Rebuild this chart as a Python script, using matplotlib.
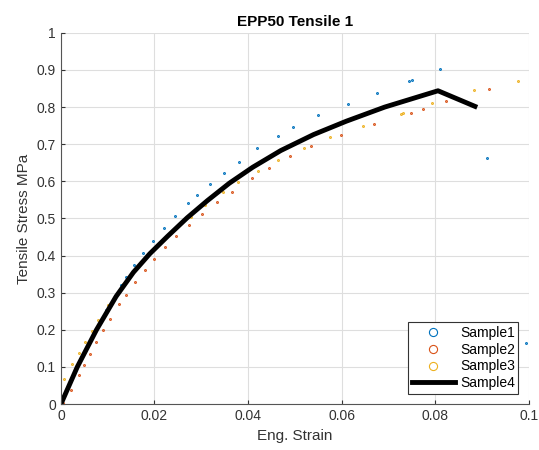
import numpy as np
import matplotlib
matplotlib.use("Agg")
import matplotlib.pyplot as plt

plt.rcParams['font.family'] = ['Liberation Sans', 'DejaVu Sans']

# Sample1 (blue)
s1_x = [0.0097, 0.0115, 0.0128, 0.014, 0.0157, 0.0175, 0.0197, 0.022, 0.0244, 0.0271,
        0.029, 0.0318, 0.0348, 0.038, 0.042, 0.0464, 0.0497, 0.055, 0.0614, 0.0675,
        0.0743, 0.075, 0.081, 0.091, 0.0995]
s1_y = [0.253, 0.291, 0.32, 0.342, 0.376, 0.408, 0.44, 0.474, 0.508, 0.541,
        0.563, 0.593, 0.623, 0.652, 0.69, 0.722, 0.747, 0.779, 0.809, 0.838,
        0.871, 0.873, 0.902, 0.663, 0.164]

# Sample2 (red)
s2_x = [0.0005, 0.0021, 0.0038, 0.0049, 0.0063, 0.0076, 0.009, 0.0105, 0.0125, 0.0139,
        0.0159, 0.0179, 0.0199, 0.0223, 0.0247, 0.0274, 0.0302, 0.0333, 0.0365, 0.0409,
        0.0444, 0.0489, 0.0534, 0.0598, 0.0669, 0.0748, 0.0773, 0.0823, 0.0915]
s2_y = [0.003, 0.038, 0.079, 0.106, 0.135, 0.168, 0.2, 0.23, 0.27, 0.294,
        0.329, 0.361, 0.392, 0.422, 0.453, 0.482, 0.513, 0.544, 0.572, 0.609,
        0.635, 0.667, 0.694, 0.725, 0.754, 0.785, 0.795, 0.817, 0.848]

# Sample3 (yellow)
s3_x = [0.0007, 0.0024, 0.0038, 0.0052, 0.0066, 0.008, 0.0101, 0.0115, 0.0133, 0.0278,
        0.0307, 0.0347, 0.0379, 0.0422, 0.0464, 0.0519, 0.0575, 0.0646, 0.0726, 0.0731,
        0.0793, 0.0882, 0.0978]
s3_y = [0.067, 0.108, 0.137, 0.167, 0.198, 0.226, 0.266, 0.291, 0.323, 0.505,
        0.537, 0.571, 0.598, 0.629, 0.658, 0.691, 0.719, 0.75, 0.782, 0.783,
        0.812, 0.846, 0.871]

# Sample4 (black line)
s4_x = [0, 0.0035, 0.0076, 0.0118, 0.0155, 0.019, 0.0228, 0.027, 0.0313, 0.036,
        0.041, 0.047, 0.054, 0.061, 0.0692, 0.0806, 0.0885]
s4_y = [0, 0.1, 0.2, 0.29, 0.355, 0.405, 0.452, 0.502, 0.548, 0.595,
        0.638, 0.683, 0.726, 0.762, 0.8, 0.844, 0.802]

fig = plt.figure(figsize=(5.39, 4.5), dpi=100)
ax = fig.add_axes([0.113, 0.102, 0.868, 0.825])

ax.plot(s1_x, s1_y, 'o', color='#0072BD', mfc='none', ms=1.3, mew=0.8, label='Sample1')
ax.plot(s2_x, s2_y, 'o', color='#D95319', mfc='none', ms=1.3, mew=0.8, label='Sample2')
ax.plot(s3_x, s3_y, 'o', color='#EDB120', mfc='none', ms=1.3, mew=0.8, label='Sample3')
ax.plot(s4_x, s4_y, color='k', lw=3.5, label='Sample4', solid_joinstyle='round')

ax.set_xlim(0, 0.1)
ax.set_ylim(0, 1)
ax.set_xticks(np.arange(0, 0.101, 0.02))
ax.set_xticklabels(['0', '0.02', '0.04', '0.06', '0.08', '0.1'])
ax.set_yticks(np.arange(0, 1.01, 0.1))
ax.set_yticklabels(['0', '0.1', '0.2', '0.3', '0.4', '0.5', '0.6', '0.7', '0.8', '0.9', '1'])
ax.grid(True, color='#dedede', lw=0.8)
ax.set_axisbelow(True)
ax.tick_params(direction='in', labelsize=10, colors='#333333', length=3)
for side in ['top', 'right']:
    ax.spines[side].set_visible(False)
for side in ['left', 'bottom']:
    ax.spines[side].set_color('#555555')

ax.set_xlabel('Eng. Strain', fontsize=11, color='#333333')
ax.set_ylabel('Tensile Stress MPa', fontsize=11, color='#333333')
ax.set_title('EPP50 Tensile 1', fontsize=11, fontweight='bold', pad=5)

leg = ax.legend(loc='lower right', markerscale=4.5, fontsize=10, fancybox=False,
                edgecolor='#333333', framealpha=1, handlelength=3.1,
                handletextpad=0.35, borderpad=0.25,
                borderaxespad=0.75, labelspacing=0.2)
leg.get_frame().set_linewidth(0.8)

fig.savefig('out.png', dpi=100)
